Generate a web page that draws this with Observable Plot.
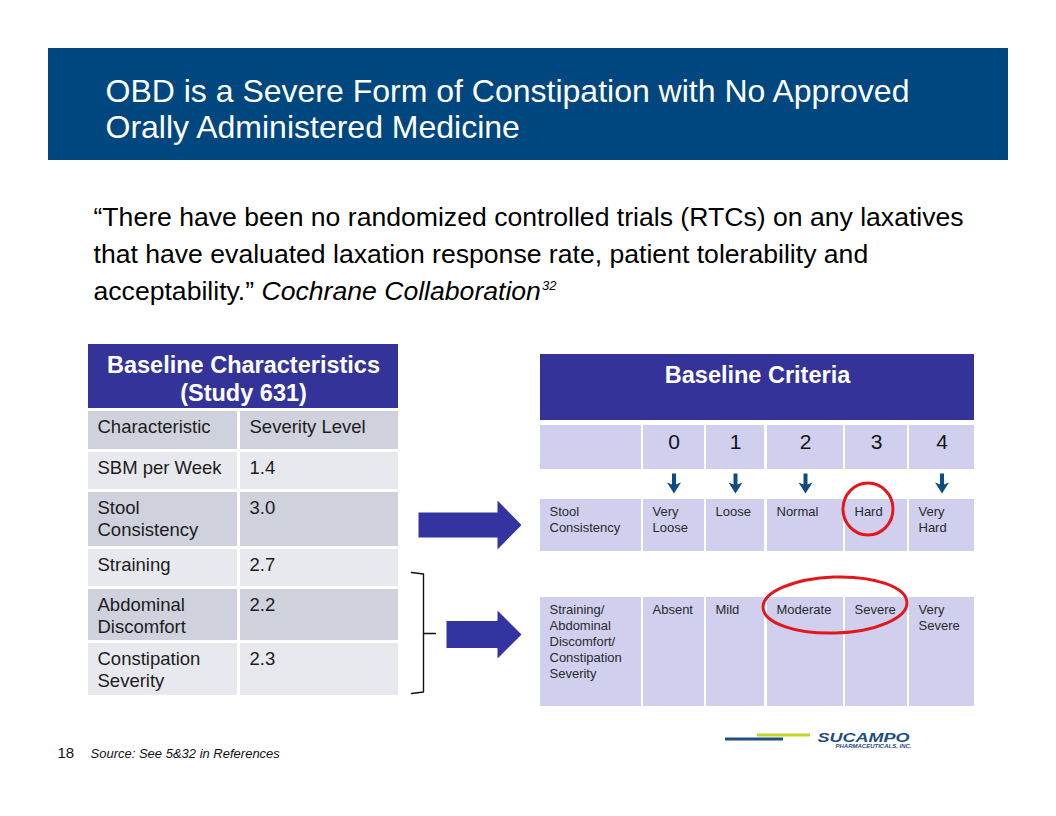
<!DOCTYPE html>
<html><head><meta charset="utf-8">
<script src="https://cdn.jsdelivr.net/npm/d3@7"></script>
<script src="https://cdn.jsdelivr.net/npm/@observablehq/plot@0.6"></script>
<style>html,body{margin:0;padding:0;background:#fff;overflow:hidden}</style>
</head><body>
<script>
// ---------------- data (content only) ----------------
const titleLines = ["OBD is a Severe Form of Constipation with No Approved", "Orally Administered Medicine"];
const quoteLines = ["“There have been no randomized controlled trials (RTCs) on any laxatives",
                    "that have evaluated laxation response rate, patient tolerability and",
                    "acceptability.” "];
const quoteSource = "Cochrane Collaboration";
const quoteRef = "32";
const leftTitle = ["Baseline Characteristics", "(Study 631)"];
const leftColumns = ["Characteristic", "Severity Level"];
const characteristics = ["SBM per Week", "Stool\nConsistency", "Straining", "Abdominal\nDiscomfort", "Constipation\nSeverity"];
const severityLevel = [1.4, 3.0, 2.7, 2.2, 2.3];
const rightTitle = "Baseline Criteria";
const scores = [0, 1, 2, 3, 4];
const criteriaRows = ["Stool\nConsistency", "Straining/\nAbdominal\nDiscomfort/\nConstipation\nSeverity"];
const stoolLabels = ["Very\nLoose", "Loose", "Normal", "Hard", "Very\nHard"];
const symptomLabels = ["Absent", "Mild", "Moderate", "Severe", "Very\nSevere"];
const arrowedScores = [0, 1, 2, 4];
const pageNumber = "18";
const sourceNote = "Source: See 5&32 in References";
const logoName = "SUCAMPO";
const logoSub = "PHARMACEUTICALS, INC.";

// ---------------- layout & style ----------------
const W = 1056, H = 816;
const FONT = "'Liberation Sans', Arial, sans-serif";
const C = {band: "#00477f", header: "#333399", dark: "#cfd1dd", light: "#e8e9ef", cell: "#d0d0ee",
           arrow: "#0f4b80", block: "#3434a0", red: "#e3161c", text: "#1c1c1c", small: "#2a2a2a",
           logoBlue: "#1f4e82", logoGreen: "#c3d52c"};
const BAND = {x: [48, 1008], y: [48, 160], textX: 105, base: 101, lh: 36, fs: 32};
const QUOTE = {x: 93, base: 225, lh: 37, fs: 26.6};
const LT = {x: [88, 398], head: [344, 408], headBase: [372, 400], headFs: 23.5,
            cols: [[88, 237], [240, 398]],
            rows: [[411, 449], [452, 489], [492, 546], [549, 586], [589, 640], [643, 695]],
            padX: 9, base: 21.5, lh: 22, fs: 18.5};
const RT = {x: [540, 974], head: [354, 420], headBase: 382, headFs: 23.5,
            cols: [[540, 641], [643, 704], [706, 764], [767, 843], [845, 907], [909, 974]],
            bands: [[425, 469], [499, 551], [597, 706]],
            numBase: 448, numFs: 21, padX: 9, base: 16.7, lh: 16, fs: 13,
            arrowY: [473, 493]};
const BLOCKS = [{x0: 418, hx: 497, tip: 521, y: 524.5, sh: 12.5, hh: 24.5},
                {x0: 446, hx: 497, tip: 521, y: 634, sh: 13.5, hh: 24}];
const BRACKET = {x0: 411, x1: 423, x2: 435, y0: 572, ym: 633, y1: 693};
const ELLIPSES = [{cx: 868, cy: 509, rx: 25, ry: 26, rot: 0}, {cx: 835, cy: 605, rx: 72, ry: 28, rot: -2}];
const FOOT = {numX: 57, srcX: 90, base: 757};
const LOGO = {dark: [725, 783, 737.5, 740.5], green: [757, 810, 733.5, 736.5],
              nameX: 817, nameBase: 741, nameStretch: 1.5, subX: 835, subBase: 747};

// ---------------- helpers ----------------
const lines = (text, x, y0, lh) => String(text).split("\n").map((t, i) => ({text: t, x, y: y0 + i * lh}));
const txt = (data, o) => Plot.text(data, {x: "x", y: "y", text: "text", lineAnchor: "bottom", textAnchor: "start", fontFamily: FONT, ...o});
const ctx = document.createElement("canvas").getContext("2d");
const measure = (s, font) => { ctx.font = font; return ctx.measureText(s).width; };
const mid = ([a, b]) => (a + b) / 2;

// ---------------- rect data ----------------
const rects = [];
rects.push({x1: BAND.x[0], x2: BAND.x[1], y1: BAND.y[0], y2: BAND.y[1], fill: C.band});
rects.push({x1: LT.x[0], x2: LT.x[1], y1: LT.head[0], y2: LT.head[1], fill: C.header});
const leftRows = [leftColumns, ...characteristics.map((c, i) => [c, severityLevel[i].toFixed(1)])];
leftRows.forEach((row, i) => row.forEach((_, j) => rects.push({
  x1: LT.cols[j][0], x2: LT.cols[j][1], y1: LT.rows[i][0], y2: LT.rows[i][1], fill: i % 2 ? C.light : C.dark})));
rects.push({x1: RT.x[0], x2: RT.x[1], y1: RT.head[0], y2: RT.head[1], fill: C.header});
const rightRows = [["", ...scores.map(String)], [criteriaRows[0], ...stoolLabels], [criteriaRows[1], ...symptomLabels]];
rightRows.forEach((row, i) => row.forEach((_, j) => rects.push({
  x1: RT.cols[j][0], x2: RT.cols[j][1], y1: RT.bands[i][0], y2: RT.bands[i][1], fill: C.cell})));
rects.push({x1: LOGO.dark[0], x2: LOGO.dark[1], y1: LOGO.dark[2], y2: LOGO.dark[3], fill: C.logoBlue});
rects.push({x1: LOGO.green[0], x2: LOGO.green[1], y1: LOGO.green[2], y2: LOGO.green[3], fill: C.logoGreen});

// ---------------- text data ----------------
const titleText = titleLines.map((t, i) => ({text: t, x: BAND.textX, y: BAND.base + i * BAND.lh}));
const quoteText = quoteLines.map((t, i) => ({text: t, x: QUOTE.x, y: QUOTE.base + i * QUOTE.lh}));
const srcX = QUOTE.x + measure(quoteLines[2], `${QUOTE.fs}px ${FONT}`);
const srcText = [{text: quoteSource, x: srcX, y: QUOTE.base + 2 * QUOTE.lh}];
const refX = srcX + measure(quoteSource, `italic ${QUOTE.fs}px ${FONT}`) + 1;
const refText = [{text: quoteRef, x: refX, y: QUOTE.base + 2 * QUOTE.lh - 10}];
const leftHeadText = leftTitle.map((t, i) => ({text: t, x: mid(LT.x), y: LT.headBase[i]}));
const leftCellText = leftRows.flatMap((row, i) => row.flatMap((t, j) => lines(t, LT.cols[j][0] + LT.padX, LT.rows[i][0] + LT.base, LT.lh)));
const rightHeadText = [{text: rightTitle, x: mid(RT.x), y: RT.headBase}];
const numText = scores.map((s, k) => ({text: String(s), x: mid(RT.cols[k + 1]), y: RT.numBase}));
const rightCellText = rightRows.slice(1).flatMap((row, i) => row.flatMap((t, j) => lines(t, RT.cols[j][0] + RT.padX, RT.bands[i + 1][0] + RT.base, RT.lh)));

// ---------------- shapes ----------------
const blockPts = BLOCKS.flatMap((b, id) => [
  [b.x0, b.y - b.sh], [b.hx, b.y - b.sh], [b.hx, b.y - b.hh], [b.tip, b.y],
  [b.hx, b.y + b.hh], [b.hx, b.y + b.sh], [b.x0, b.y + b.sh]].map(([x, y]) => ({id, x, y})));
const downPts = arrowedScores.flatMap(s => {
  const cx = mid(RT.cols[s + 1]), [y0, y1] = RT.arrowY;
  return [[cx - 2, y0], [cx + 2, y0], [cx + 2, y1 - 9], [cx + 7, y1 - 11], [cx, y1], [cx - 7, y1 - 11], [cx - 2, y1 - 9]]
    .map(([x, y]) => ({id: s, x, y}));
});
const B = BRACKET;
const bracketPts = [
  {id: 0, x: B.x0, y: B.y0}, {id: 0, x: B.x1, y: B.y0 + 1.5}, {id: 0, x: B.x1, y: B.y1 - 1.5}, {id: 0, x: B.x0, y: B.y1},
  {id: 1, x: B.x1, y: B.ym}, {id: 1, x: B.x2, y: B.ym}];

const footText = [{text: pageNumber, x: FOOT.numX, y: FOOT.base}];
const srcNote = [{text: sourceNote, x: FOOT.srcX, y: FOOT.base}];
const logoNameText = [{text: logoName, x: LOGO.nameX, y: LOGO.nameBase}];
const logoSubText = [{text: logoSub, x: LOGO.subX, y: LOGO.subBase}];

const plot = Plot.plot({
  width: W, height: H, margin: 0,
  x: {domain: [0, W], range: [0, W], axis: null},
  y: {domain: [0, H], range: [0, H], axis: null},
  style: {background: "white", fontFamily: FONT, overflow: "visible"},
  marks: [
    Plot.rect(rects, {x1: "x1", x2: "x2", y1: "y1", y2: "y2", fill: "fill"}),
    txt(titleText, {fill: "white", fontSize: BAND.fs}),
    txt(quoteText, {fill: "#000", fontSize: QUOTE.fs}),
    txt(srcText, {fill: "#000", fontSize: QUOTE.fs, fontStyle: "italic"}),
    txt(refText, {fill: "#000", fontSize: 13, fontStyle: "italic"}),
    txt(leftHeadText, {fill: "white", fontSize: LT.headFs, fontWeight: "bold", textAnchor: "middle"}),
    txt(leftCellText, {fill: C.text, fontSize: LT.fs}),
    txt(rightHeadText, {fill: "white", fontSize: RT.headFs, fontWeight: "bold", textAnchor: "middle"}),
    txt(numText, {fill: "#111", fontSize: RT.numFs, textAnchor: "middle"}),
    txt(rightCellText, {fill: C.small, fontSize: RT.fs}),
    Plot.line(blockPts, {x: "x", y: "y", z: "id", fill: C.block, stroke: "none"}),
    Plot.line(downPts, {x: "x", y: "y", z: "id", fill: C.arrow, stroke: "none"}),
    Plot.line(bracketPts, {x: "x", y: "y", z: "id", stroke: "#111", strokeWidth: 1.4}),
    txt(footText, {fill: "#111", fontSize: 15}),
    txt(srcNote, {fill: "#111", fontSize: 13, fontStyle: "italic"}),
    txt(logoNameText, {fill: C.logoBlue, fontSize: 12, fontWeight: "bold", fontStyle: "italic"}),
    txt(logoSubText, {fill: C.logoBlue, fontSize: 6, fontWeight: "bold", fontStyle: "italic"})
  ]
});
document.body.appendChild(plot);

const sx = plot.scale("x"), sy = plot.scale("y");
const fx = sx.apply ? v => sx.apply(v) : v => v, fy = sy.apply ? v => sy.apply(v) : v => v;

// stretch the logo wordmark horizontally about its anchor
const ax = fx(LOGO.nameX), ay = fy(LOGO.nameBase);
d3.select(plot).selectAll("text").filter(function () { return this.textContent === logoName; })
  .attr("transform", function () {
    return `translate(${ax},${ay}) scale(${LOGO.nameStretch},1) translate(${-ax},${-ay}) ` + (this.getAttribute("transform") || "");
  });

// red highlight ellipses, positioned through the plot's scales
d3.select(plot).append("g").selectAll("ellipse").data(ELLIPSES).join("ellipse")
  .attr("cx", d => fx(d.cx)).attr("cy", d => fy(d.cy))
  .attr("rx", d => d.rx).attr("ry", d => d.ry)
  .attr("transform", d => `rotate(${d.rot},${fx(d.cx)},${fy(d.cy)})`)
  .attr("fill", "none").attr("stroke", C.red).attr("stroke-width", 3);
</script>
</body></html>
